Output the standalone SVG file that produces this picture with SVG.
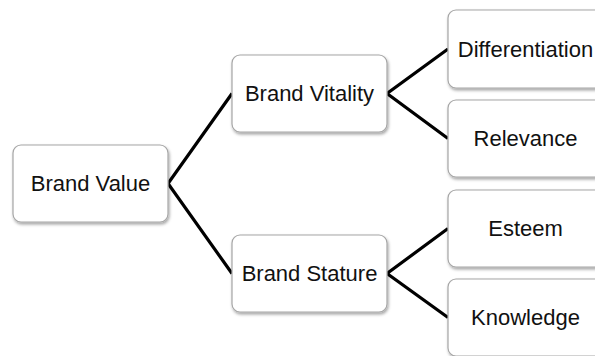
<svg xmlns="http://www.w3.org/2000/svg" width="595" height="356" viewBox="0 0 595 356">
<defs>
<filter id="sh" x="-10%" y="-10%" width="125%" height="130%">
<feDropShadow dx="1" dy="2" stdDeviation="1.5" flood-color="#000" flood-opacity="0.35"/>
</filter>
</defs>
<style>
.box{fill:#fff;stroke:#a6a6a6;stroke-width:1.2;filter:url(#sh)}
.lbl{font-family:"Liberation Sans",Arial,sans-serif;font-size:22px;fill:#111;text-anchor:middle}
.con{stroke:#000;stroke-width:3.2;fill:none;stroke-linejoin:miter}
</style>
<rect width="595" height="356" fill="#fff"/>
<g id="connectors">
<polyline class="con" points="232,93.5 168,183.5 232,273.5"/>
<polyline class="con" points="448,49 387,93.5 448,138.5"/>
<polyline class="con" points="448,228.5 387,273.5 448,317.5"/>
</g>
<g id="brand-value"><rect class="box" x="13" y="145" width="155" height="77" rx="8"/><text class="lbl" x="90.5" y="190.5">Brand Value</text></g>
<g id="brand-vitality"><rect class="box" x="232" y="55" width="155" height="77" rx="8"/><text class="lbl" x="309.5" y="100.5">Brand Vitality</text></g>
<g id="brand-stature"><rect class="box" x="232" y="235" width="155" height="77" rx="8"/><text class="lbl" x="309.5" y="280.5">Brand Stature</text></g>
<g id="differentiation"><rect class="box" x="448" y="10" width="155" height="78" rx="8"/><text class="lbl" x="525.5" y="56.5">Differentiation</text></g>
<g id="relevance"><rect class="box" x="448" y="100" width="155" height="77" rx="8"/><text class="lbl" x="525.5" y="145.5">Relevance</text></g>
<g id="esteem"><rect class="box" x="448" y="190" width="155" height="77" rx="8"/><text class="lbl" x="525.5" y="235.5">Esteem</text></g>
<g id="knowledge"><rect class="box" x="448" y="279" width="155" height="77" rx="8"/><text class="lbl" x="525.5" y="324.5">Knowledge</text></g>
</svg>
